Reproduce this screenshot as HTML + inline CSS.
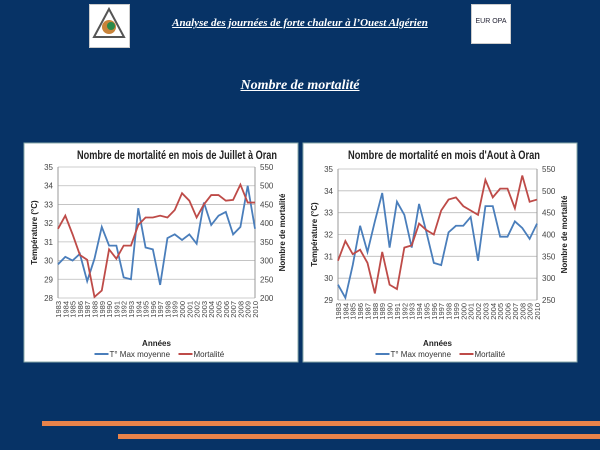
<!DOCTYPE html>
<html><head><meta charset="utf-8">
<style>
body{margin:0;width:600px;height:450px;background:#073366;overflow:hidden;position:relative;font-family:"Liberation Sans",sans-serif}
.hdr{position:absolute;left:0;top:17px;width:600px;text-align:center;font-family:"Liberation Serif",serif;font-style:italic;font-weight:bold;color:#fff;font-size:11px;text-decoration:underline}
.sub{position:absolute;left:0;top:78px;width:600px;text-align:center;font-family:"Liberation Serif",serif;font-style:italic;font-weight:bold;color:#fff;font-size:14px;text-decoration:underline}
.logo{position:absolute;background:#fff;border:1px solid #ccc}
.bar{position:absolute;background:#e8834a;height:5px}
</style></head><body>
<div class="logo" style="left:89px;top:4px;width:39px;height:42px">
<svg width="39" height="42"><polygon points="19,4 4,32 34,32" fill="none" stroke="#555" stroke-width="2"/><circle cx="19" cy="22" r="7" fill="#c8833a"/><circle cx="21" cy="21" r="4" fill="#2a8a4a"/></svg></div>
<div class="logo" style="left:471px;top:4px;width:38px;height:38px;font-size:7px;color:#223;text-align:center;line-height:34px">EUR OPA</div>
<div class="hdr">Analyse des journées de forte chaleur à l’Ouest Algérien</div>
<div class="sub">Nombre de mortalité</div>
<div class="bar" style="left:42px;top:421px;width:558px"></div>
<div class="bar" style="left:118px;top:434px;width:482px"></div>
<svg id="s" width="600" height="450" style="position:absolute;left:0;top:0"></svg>
<script>
const years=[1983,1984,1985,1986,1987,1988,1989,1990,1991,1992,1993,1994,1995,1996,1997,1998,1999,2000,2001,2002,2003,2004,2005,2006,2007,2008,2009,2010];
const julTemp=[29.8,30.2,30.0,30.36,28.9,30.1,31.8,30.8,30.8,29.1,29.0,32.8,30.7,30.6,28.7,31.2,31.4,31.1,31.4,30.9,33.1,31.9,32.4,32.6,31.4,31.8,34.0,31.7];
const julMort=[385,420,370,315,302,203,220,330,305,340,340,395,415,415,420,415,435,480,460,415,450,475,475,460,462,503,455,455];
const augTemp=[29.7,29.1,30.6,32.4,31.2,32.6,33.9,31.4,33.5,32.9,31.4,33.4,32.1,30.7,30.6,32.1,32.4,32.4,32.8,30.8,33.3,33.3,31.9,31.9,32.6,32.3,31.8,32.5];
const augMort=[340,385,355,365,335,265,360,285,275,370,375,425,410,400,455,480,485,465,455,445,525,485,505,505,460,535,475,480];
const julTempTicks=[28,29,30,31,32,33,34,35];
const julMortTicks=[200,250,300,350,400,450,500,550];
const augTempTicks=[29,30,31,32,33,34,35];
const augMortTicks=[250,300,350,400,450,500,550];
const S=document.getElementById('s');const NS='http://www.w3.org/2000/svg';
function el(t,a,p){const e=document.createElementNS(NS,t);for(const k in a)e.setAttribute(k,a[k]);(p||S).appendChild(e);return e;}
function chart(c){
 const g=el('g',{});
 
 
 const bg=el('rect',{x:c.px,y:c.py,width:c.pw,height:c.ph,fill:'#fff',stroke:'#8aa',"stroke-width":1},g);
 
 
 const t0=c.tT[0],t1=c.tT[c.tT.length-1],m0=c.mT[0],m1=c.mT[c.mT.length-1];
 const yT=v=>c.b-(v-t0)/(t1-t0)*(c.b-c.t);
 const yM=v=>c.b-(v-m0)/(m1-m0)*(c.b-c.t);
 const n=years.length,step=(c.r-c.l)/(n-1);
 const x=i=>c.l+i*step;
 c.tT.forEach(v=>{const y=yT(v);const ln=el('line',{x1:c.l,x2:c.r,y1:y,y2:y,stroke:'#bbb','stroke-width':0.8},g);
  
  const tx=el('text',{x:c.l-5,y:y+3,'font-size':8,'text-anchor':'end',fill:'#444'},g);tx.textContent=v;
  });
 c.mT.forEach(v=>{const y=yM(v);const tx=el('text',{x:c.r+5,y:y+3,'font-size':8,fill:'#444'},g);tx.textContent=v;
  });
 el('line',{x1:c.l,x2:c.l,y1:c.t,y2:c.b,stroke:'#999'},g);el('line',{x1:c.r,x2:c.r,y1:c.t,y2:c.b,stroke:'#999'},g);
 years.forEach((yr,i)=>{const tx=el('text',{x:0,y:0,'font-size':7.5,fill:'#444','text-anchor':'end',transform:`translate(${x(i)+3},${c.b+3}) rotate(-90)`},g);tx.textContent=yr;
  });
 const p1=el('polyline',{points:c.temp.map((v,i)=>x(i)+','+yT(v)).join(' '),fill:'none',stroke:'#4a7ebb','stroke-width':1.8},g);
 
 const p2=el('polyline',{points:c.mort.map((v,i)=>x(i)+','+yM(v)).join(' '),fill:'none',stroke:'#be4b48','stroke-width':1.8},g);
 
 const tt=el('text',{x:c.tx,y:c.py+16,'font-size':11.5,'font-weight':'bold',fill:'#222','text-anchor':'middle',textLength:c.tl,lengthAdjust:'spacingAndGlyphs'},g);tt.textContent=c.title;
 
 const yl=el('text',{x:0,y:0,'font-size':8,'font-weight':'bold',fill:'#222','text-anchor':'middle',transform:`translate(${c.l-21},${(c.t+c.b)/2}) rotate(-90)`},g);yl.textContent='Température (°C)';
 
 const yr=el('text',{x:0,y:0,'font-size':8,'font-weight':'bold',fill:'#222','text-anchor':'middle',transform:`translate(${c.r+30},${(c.t+c.b)/2}) rotate(-90)`},g);yr.textContent='Nombre de mortalité';
 
 const cx=(c.l+c.r)/2;
 const xa=el('text',{x:cx,y:c.py+203,'font-size':8,'font-weight':'bold',fill:'#222','text-anchor':'middle'},g);xa.textContent='Années';
 
 const lg=el('g',{},g);
 el('line',{x1:cx-62,x2:cx-48,y1:c.py+211,y2:c.py+211,stroke:'#4a7ebb','stroke-width':2},lg);
 const a=el('text',{x:cx-47,y:c.py+214,'font-size':8,fill:'#333'},lg);a.textContent='T° Max moyenne';
 el('line',{x1:cx+22,x2:cx+36,y1:c.py+211,y2:c.py+211,stroke:'#be4b48','stroke-width':2},lg);
 const b=el('text',{x:cx+37,y:c.py+214,'font-size':8,fill:'#333'},lg);b.textContent='Mortalité';
}
chart({name:'july-chart',px:24,py:143,pw:274,ph:219,l:58,r:255,t:167,b:298,tT:julTempTicks,mT:julMortTicks,temp:julTemp,mort:julMort,title:'Nombre de mortalité en mois de Juillet à Oran',tx:177,tl:200});
chart({name:'august-chart',px:303,py:143,pw:274,ph:219,l:338,r:537,t:169,b:300,tT:augTempTicks,mT:augMortTicks,temp:augTemp,mort:augMort,title:"Nombre de mortalité en mois d'Aout à Oran",tx:444,tl:192});
</script>
</body></html>
